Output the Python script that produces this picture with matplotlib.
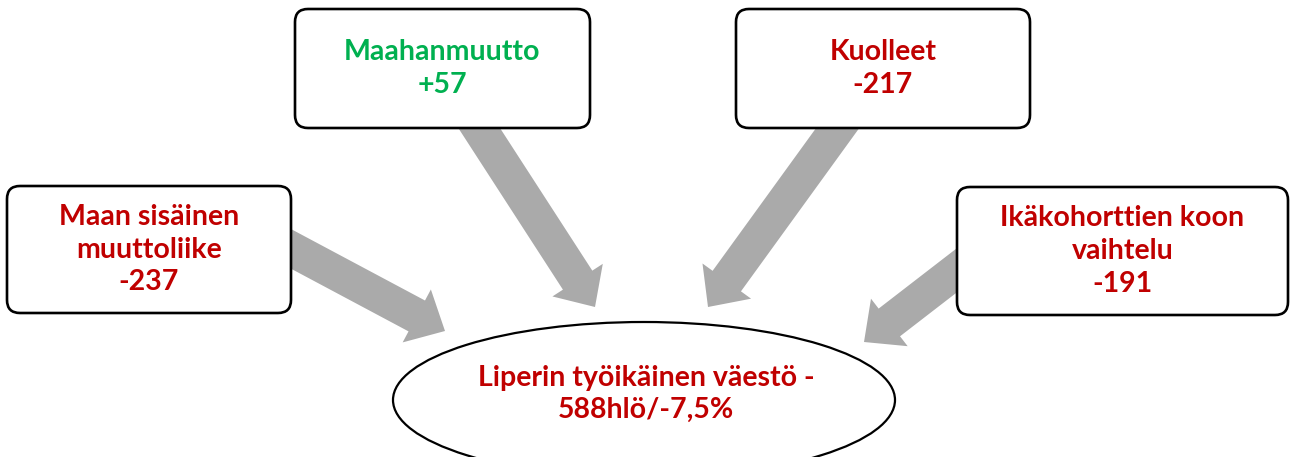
import matplotlib
matplotlib.use("Agg")
import matplotlib.pyplot as plt
from matplotlib.patches import FancyBboxPatch, FancyArrow, Ellipse

# data
labels = ["Maan sisäinen\nmuuttoliike", "Maahanmuutto", "Kuolleet", "Ikäkohorttien koon\nvaihtelu"]
values = [-237, 57, -217, -191]
center_name = "Liperin työikäinen väestö"
change_pct = -7.5
total = sum(values)

# layout in pixel units (x0, y0, x1, y1)
boxes = [(7, 186, 291, 313), (295, 9, 590, 128), (736, 9, 1030, 128), (957, 187, 1288, 315)]
arrows = [((250, 227), (445, 331)), ((461, 100), (595, 307)),
          ((858, 100), (708, 307)), ((1000, 237), (864, 342))]

RED = "#C00000"
GREEN = "#00B050"
GRAY = "#AAAAAA"
FONT = "Lato"
FS = 20.5
PITCH = 32.5


def draw_lines(ax, cx, cy, lines, color):
    n = len(lines)
    for i, line in enumerate(lines):
        y = cy + (i - (n - 1) / 2) * PITCH
        ax.text(cx, y, line, ha="center", va="center", fontsize=FS,
                fontweight="bold", color=color, family=FONT, zorder=5)


fig = plt.figure(figsize=(12.91, 4.57), dpi=100)
ax = fig.add_axes([0, 0, 1, 1])
ax.set_xlim(0, 1291)
ax.set_ylim(457, 0)
ax.axis("off")

for (tail, tip) in arrows:
    dx = tip[0] - tail[0]
    dy = tip[1] - tail[1]
    ax.add_patch(FancyArrow(tail[0], tail[1], dx, dy, width=35, head_width=60,
                            head_length=32, length_includes_head=True,
                            color=GRAY, linewidth=0, zorder=1))

for (x0, y0, x1, y1), lab, v in zip(boxes, labels, values):
    ax.add_patch(FancyBboxPatch((x0, y0), x1 - x0, y1 - y0,
                                boxstyle="round,pad=0,rounding_size=13",
                                facecolor="white", edgecolor="black",
                                linewidth=1.9, zorder=3))
    col = GREEN if v > 0 else RED
    draw_lines(ax, (x0 + x1) / 2, (y0 + y1) / 2, lab.split("\n") + [f"{v:+d}"], col)

ax.add_patch(Ellipse((644, 400), 502, 156, facecolor="white",
                     edgecolor="black", linewidth=1.6, zorder=3))
sign = "-" if total < 0 else "+"
center_lines = [f"{center_name} {sign}", f"{abs(total)}hlö/{change_pct:.1f}%".replace(".", ",")]
draw_lines(ax, 646, 394, center_lines, RED)

fig.savefig("out.png", dpi=100)
